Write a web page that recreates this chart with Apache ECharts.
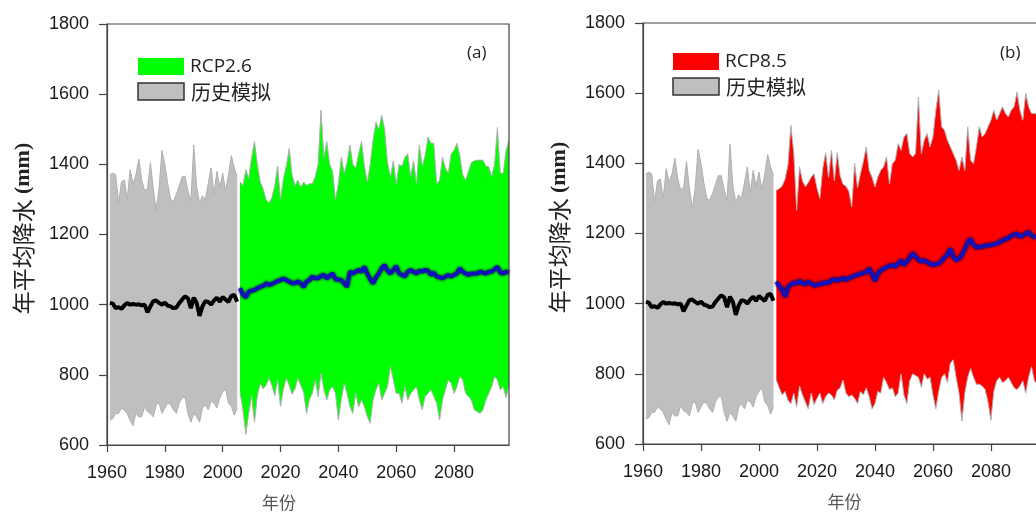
<!DOCTYPE html>
<html>
<head>
<meta charset="utf-8">
<script src="https://cdn.jsdelivr.net/npm/echarts@6/dist/echarts.min.js"></script>
<style>
  html, body { margin: 0; padding: 0; background: #fff; }
  #chart { width: 1036px; height: 514px; }
</style>
</head>
<body>
<div id="chart"></div>
<script>
// 年份
function range(a, b) { const r = []; for (let y = a; y <= b; y++) r.push(y); return r; }
const histYears = range(1961, 2005);
const rcp26Years = range(2006, 2099);
const rcp85Years = range(2006, 2096); // 右图在 2096 附近被裁掉
const xTicks = [1960, 1980, 2000, 2020, 2040, 2060, 2080];

// 历史模拟 1961-2005
const histUpper = [1370,1375,1370,1290,1350, 1355,1300,1385,1345,1370,
  1415,1355,1325,1330,1405, 1330,1270,1330,1440,1400,
  1345,1300,1295,1315,1340, 1365,1365,1325,1295,1455,
  1335,1290,1310,1300,1345, 1390,1315,1380,1335,1375,
  1325,1370,1425,1390,1365];
const histLower = [671,675,690,690,705, 700,690,670,655,690,
  680,680,710,695,690, 680,715,720,690,705,
  720,715,700,690,720, 735,735,690,665,690,
  680,665,705,715,700, 725,720,705,735,750,
  760,720,710,685,705];
const histMean = [1005,1003,990,993,988, 998,1005,1000,1002,1000,
  1001,998,1000,978,995, 1010,1012,1005,1000,1006,
  997,995,990,992,1005, 1015,1024,1018,990,1020,
  1005,968,995,1010,1008, 1000,1012,1020,1008,1022,
  1015,1008,1025,1028,1008];

// RCP2.6 2006-2099
const rcp26Upper = [1350,1340,1385,1360,1420, 1465,1400,1350,1330,1300,
  1290,1305,1340,1395,1300, 1360,1395,1445,1370,1340,
  1355,1335,1350,1340,1345, 1345,1365,1400,1555,1420,
  1465,1400,1380,1300,1345, 1420,1375,1405,1455,1400,
  1390,1430,1465,1395,1350, 1400,1470,1520,1500,1540,
  1500,1405,1365,1410,1345, 1400,1395,1420,1430,1365,
  1410,1345,1455,1395,1425, 1478,1460,1460,1345,1355,
  1420,1390,1375,1430,1440, 1460,1425,1370,1355,1380,
  1405,1410,1412,1412,1412, 1395,1393,1365,1400,1505,
  1375,1375,1440,1470];
const rcp26Lower = [750,700,630,690,740, 665,740,775,760,770,
  790,770,740,785,710, 760,790,770,745,760,
  790,770,750,690,730, 747,785,738,804,757,
  728,757,766,747,671, 728,776,747,709,690,
  747,709,728,709,681, 662,728,757,776,728,
  747,766,823,785,747, 747,719,766,728,747,
  757,766,728,700,738, 747,757,738,719,671,
  728,757,785,776,747, 766,795,785,747,738,
  728,700,695,690,700, 728,747,766,795,785,
  757,766,735,770];
const rcp26Mean = [1047,1028,1021,1037,1040, 1042,1047,1051,1053,1061,
  1056,1059,1063,1067,1070, 1075,1070,1066,1061,1061,
  1066,1061,1050,1066,1070, 1080,1075,1075,1082,1085,
  1075,1082,1089,1072,1072, 1070,1061,1051,1094,1089,
  1094,1099,1094,1108,1089, 1072,1061,1078,1089,1104,
  1113,1097,1089,1099,1110, 1089,1085,1080,1094,1099,
  1094,1089,1097,1094,1099, 1097,1085,1091,1080,1078,
  1075,1080,1085,1080,1085, 1089,1104,1094,1089,1085,
  1089,1089,1089,1094,1091, 1089,1094,1094,1101,1108,
  1091,1089,1094,1091];

// RCP8.5 2006-2096
const rcp85Upper = [1323,1328,1335,1355,1395, 1508,1430,1266,1390,1350,
  1333,1345,1360,1370,1330, 1300,1385,1430,1360,1437,
  1350,1430,1365,1340,1335, 1320,1276,1400,1330,1370,
  1405,1447,1380,1360,1333, 1361,1380,1390,1418,1342,
  1399,1409,1456,1437,1475, 1485,1428,1418,1428,1589,
  1428,1466,1485,1447,1475, 1551,1608,1504,1494,1466,
  1447,1428,1409,1380,1418, 1380,1504,1409,1399,1447,
  1504,1475,1485,1504,1523, 1551,1523,1542,1561,1542,
  1532,1551,1561,1603,1551, 1523,1599,1561,1542,1542,
  1540];
const rcp85Lower = [782,760,740,750,725, 715,745,706,765,740,
  720,700,745,712,730, 745,715,735,745,740,
  725,753,760,782,745, 735,740,730,715,750,
  740,760,735,700,715, 750,745,790,775,755,
  760,735,745,800,740, 715,780,800,795,790,
  762,800,785,790,740, 700,750,790,800,775,
  830,840,790,745,665, 745,790,815,790,770,
  770,765,755,720,668, 750,780,790,775,780,
  790,775,760,755,765, 780,745,790,820,780,
  770];
const rcp85Mean = [1062,1050,1040,1020,1047, 1055,1060,1057,1066,1058,
  1056,1062,1058,1052,1053, 1057,1057,1062,1058,1067,
  1070,1066,1068,1074,1068, 1072,1076,1080,1082,1085,
  1088,1090,1100,1085,1065, 1085,1095,1100,1104,1108,
  1110,1105,1114,1124,1110, 1120,1130,1144,1135,1125,
  1120,1124,1118,1114,1110, 1113,1114,1122,1132,1140,
  1157,1133,1124,1128,1140, 1155,1175,1185,1168,1160,
  1162,1162,1166,1167,1166, 1170,1171,1176,1180,1185,
  1186,1194,1196,1200,1190, 1194,1200,1204,1194,1190,
  1192];

const pairs = (years, vals) => years.map((y, i) => [y, vals[i]]);

const edge = '#b0b0b0';
const grayFill = '#bfbfbf';
const tickFont = 'Liberation Sans';

// 上下包络之间的范围带：整条多边形，用坐标轴换算
function bandSeries(idx, name, years, lo, up, color) {
  return {
    type: 'custom', name: name, xAxisIndex: idx, yAxisIndex: idx, silent: true, z: 2,
    data: years.map((y, i) => [y, lo[i], up[i]]),
    encode: { x: 0, y: [1, 2] },
    renderItem: function (params, api) {
      if (params.dataIndex !== 0) return null;
      const top = years.map((y, i) => api.coord([y, up[i]]));
      const bot = years.map((y, i) => api.coord([y, lo[i]]));
      const poly = top.concat(bot.slice().reverse());
      return {
        type: 'group',
        children: [
          { type: 'polygon', shape: { points: poly }, style: { fill: color } },
          { type: 'polyline', shape: { points: top }, style: { stroke: edge, lineWidth: 1, fill: null } },
          { type: 'polyline', shape: { points: bot }, style: { stroke: edge, lineWidth: 1, fill: null } }
        ]
      };
    }
  };
}

function panelSeries(idx, name, color, years, up, lo, mean) {
  const base = { type: 'line', xAxisIndex: idx, yAxisIndex: idx, symbol: 'none', silent: true };
  return [
    bandSeries(idx, '历史模拟', histYears, histLower, histUpper, grayFill),
    bandSeries(idx, name, years, lo, up, color),
    Object.assign({}, base, { name: '历史均值', data: pairs(histYears, histMean),
      lineStyle: { color: '#000', width: 4 }, z: 5 }),
    Object.assign({}, base, { name: name + '均值', data: pairs(years, mean),
      lineStyle: { color: '#1212bc', width: 4, shadowColor: '#000030', shadowBlur: 3 }, z: 5 })
  ];
}

function xAxis(idx, pad) {
  return {
    gridIndex: idx, type: 'value', min: 1960, max: 2099, interval: 20, z: 10,
    axisLine: { show: true, onZero: false, lineStyle: { color: '#444', width: 1.2 } },
    axisTick: { show: true, length: 7, customValues: xTicks, lineStyle: { color: '#444', width: 1.2 } },
    axisLabel: { customValues: xTicks, formatter: v => String(v), fontSize: 18, color: '#1a1a1a', fontFamily: tickFont, margin: 19 },
    splitLine: { show: false },
    name: '年份', nameLocation: 'middle', nameGap: 49,
    nameTextStyle: { fontSize: 17, color: '#555', fontFamily: 'Noto Sans CJK SC', padding: pad }
  };
}

function yAxis(idx) {
  return {
    gridIndex: idx, type: 'value', min: 600, max: 1800, interval: 200, z: 10,
    axisLine: { show: true, lineStyle: { color: '#444', width: 1.2 } },
    axisTick: { show: true, length: 8, lineStyle: { color: '#444', width: 1.2 } },
    axisLabel: { formatter: v => String(v), fontSize: 18, color: '#1a1a1a', fontFamily: tickFont, margin: 18 },
    splitLine: { show: false },
    name: '{a|年平均降水 }{b|(mm)}', nameLocation: 'middle', nameGap: 72, nameRotate: 90,
    nameTextStyle: {
      padding: [0, 0, 0, 12],
      rich: {
        a: { fontSize: 23, color: '#222', fontFamily: 'Noto Sans CJK SC' },
        b: { fontSize: 22, color: '#222', fontWeight: 'bold', fontFamily: 'Liberation Serif' }
      }
    }
  };
}

function legendItems(x, y, color, label, tag, tagX) {
  return [
    { type: 'rect', shape: { x: x, y: y, width: 46, height: 17 }, style: { fill: color } },
    { type: 'text', x: x + 52, y: y + 9, style: { text: label, font: '19px "Open Sans"', fill: '#222', verticalAlign: 'middle' } },
    { type: 'rect', shape: { x: x, y: y + 25, width: 46, height: 17 }, style: { fill: grayFill, stroke: '#333', lineWidth: 1.5 } },
    { type: 'text', x: x + 53, y: y + 34, style: { text: '历史模拟', font: '20px "Noto Sans CJK SC"', fill: '#222', verticalAlign: 'middle' } },
    { type: 'text', x: tagX, y: 53, style: { text: tag, font: '17px "Open Sans"', fill: '#222', verticalAlign: 'middle' } }
  ];
}

const chart = echarts.init(document.getElementById('chart'));
chart.setOption({
  animation: false,
  backgroundColor: '#fff',
  grid: [
    { left: 107, top: 24, width: 402, height: 421, show: true, borderColor: '#444', borderWidth: 1.2, z: 10, outerBoundsMode: 'none' },
    { left: 643, top: 23, width: 403, height: 421, show: true, borderColor: '#444', borderWidth: 1.2, z: 10, outerBoundsMode: 'none' }
  ],
  xAxis: [xAxis(0, [0, 58, 0, 0]), xAxis(1, 0)],
  yAxis: [yAxis(0), yAxis(1)],
  series: [].concat(
    panelSeries(0, 'RCP2.6', '#00ff00', rcp26Years, rcp26Upper, rcp26Lower, rcp26Mean),
    panelSeries(1, 'RCP8.5', '#ff0000', rcp85Years, rcp85Upper, rcp85Lower, rcp85Mean)
  ),
  graphic: [].concat(
    legendItems(138, 58, '#00ff00', 'RCP2.6', '(a)', 467),
    legendItems(673, 53, '#ff0000', 'RCP8.5', '(b)', 1000)
  )
});
</script>
</body>
</html>
